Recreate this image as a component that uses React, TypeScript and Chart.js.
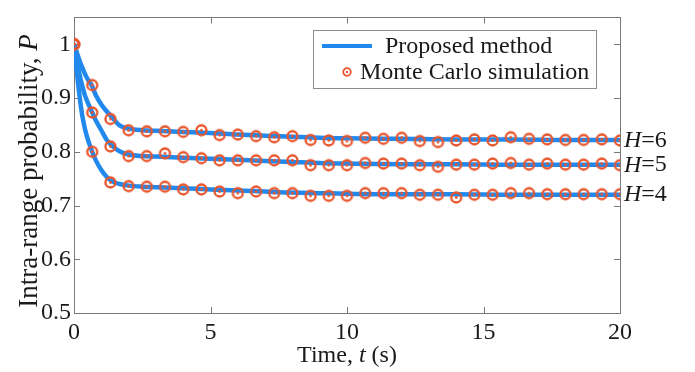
import React, { useEffect, useRef } from 'react';
import { Chart, registerables } from 'chart.js';
Chart.register(...registerables);

const FONT = '"Liberation Serif", "Times New Roman", serif';
const TEXT = '#1a1a1a';
const BLUE = '#2189ee';
const ORANGE = '#e8542a';
const FRAME = '#7a7a7a';

// Proposed method (smooth curves)
const lineT = [0, 0.1, 0.2, 0.3, 0.4, 0.5, 0.667, 0.8, 1, 1.2, 1.4, 1.667, 2, 2.5, 3, 4, 5, 6, 7, 8, 9, 10, 12, 14, 16, 18, 20];
const lineH6 = [1.0, 0.985, 0.97, 0.957, 0.945, 0.935, 0.922, 0.905, 0.888, 0.875, 0.864, 0.849, 0.843, 0.840, 0.839, 0.837, 0.835, 0.832, 0.830, 0.828, 0.826, 0.825, 0.824, 0.823, 0.823, 0.822, 0.822];
const lineH5 = [1.0, 0.972, 0.945, 0.923, 0.905, 0.892, 0.873, 0.858, 0.840, 0.822, 0.811, 0.801, 0.795, 0.792, 0.791, 0.789, 0.787, 0.785, 0.783, 0.781, 0.779, 0.778, 0.777, 0.777, 0.776, 0.776, 0.776];
const lineH4 = [1.0, 0.95, 0.905, 0.868, 0.843, 0.824, 0.800, 0.784, 0.766, 0.753, 0.745, 0.740, 0.737, 0.735, 0.734, 0.732, 0.730, 0.728, 0.726, 0.724, 0.723, 0.722, 0.721, 0.721, 0.720, 0.720, 0.720];

// Monte Carlo simulation (markers)
const mcT = [0, 0.667, 1.333, 2, 2.667, 3.333, 4, 4.667, 5.333, 6, 6.667, 7.333, 8, 8.667, 9.333, 10, 10.667, 11.333, 12, 12.667, 13.333, 14, 14.667, 15.333, 16, 16.667, 17.333, 18, 18.667, 19.333, 20];
const mcH6 = [1.0, 0.924, 0.861, 0.840, 0.838, 0.838, 0.837, 0.840, 0.831, 0.832, 0.829, 0.827, 0.829, 0.822, 0.821, 0.820, 0.826, 0.824, 0.826, 0.820, 0.818, 0.821, 0.823, 0.821, 0.827, 0.824, 0.823, 0.822, 0.822, 0.823, 0.821];
const mcH5 = [1.0, 0.873, 0.810, 0.792, 0.792, 0.797, 0.790, 0.788, 0.784, 0.784, 0.784, 0.784, 0.784, 0.775, 0.775, 0.775, 0.779, 0.778, 0.778, 0.775, 0.772, 0.776, 0.776, 0.778, 0.779, 0.776, 0.778, 0.776, 0.776, 0.778, 0.775];
const mcH4 = [1.0, 0.800, 0.743, 0.736, 0.735, 0.735, 0.730, 0.730, 0.726, 0.723, 0.726, 0.723, 0.723, 0.718, 0.718, 0.718, 0.723, 0.723, 0.723, 0.720, 0.720, 0.715, 0.720, 0.720, 0.723, 0.723, 0.721, 0.721, 0.721, 0.721, 0.721];

const hLabels = ['6', '5', '4'];
const xTicks = [0, 5, 10, 15, 20];
const yTicks = [0.5, 0.6, 0.7, 0.8, 0.9, 1.0];
const legendLabels = ['Proposed method', 'Monte Carlo simulation'];

function makeMarker(r: number, lw: number, dot: number) {
  const size = Math.ceil((r + lw) * 2 + 2);
  const c = document.createElement('canvas');
  c.width = size;
  c.height = size;
  const ctx = c.getContext('2d')!;
  ctx.strokeStyle = ORANGE;
  ctx.lineWidth = lw;
  ctx.beginPath();
  ctx.arc(size / 2, size / 2, r, 0, Math.PI * 2);
  ctx.stroke();
  ctx.fillStyle = ORANGE;
  ctx.beginPath();
  ctx.arc(size / 2, size / 2, dot, 0, Math.PI * 2);
  ctx.fill();
  return c;
}

function drawMixed(ctx: CanvasRenderingContext2D, parts: [string, boolean][], x: number, y: number, size: number, align: 'left' | 'center') {
  const widths = parts.map(([t, it]) => {
    ctx.font = `${it ? 'italic ' : ''}${size}px ${FONT}`;
    return ctx.measureText(t).width;
  });
  const total = widths.reduce((a, b) => a + b, 0);
  let cx = align === 'center' ? x - total / 2 : x;
  parts.forEach(([t, it], i) => {
    ctx.font = `${it ? 'italic ' : ''}${size}px ${FONT}`;
    ctx.fillText(t, cx, y);
    cx += widths[i];
  });
}

export default function App() {
  const ref = useRef<HTMLCanvasElement>(null);
  useEffect(() => {
    document.body.style.margin = '0';
    const canvas = ref.current!;
    const marker = makeMarker(5, 2.3, 1.4);
    const legendMarker = makeMarker(3.8, 1.8, 1.2);

    const overlay = {
      id: 'overlay',
      beforeDatasetsDraw(chart: any) {
        const { ctx, chartArea: a, scales } = chart;
        ctx.save();
        ctx.strokeStyle = FRAME;
        ctx.lineWidth = 1;
        ctx.strokeRect(Math.round(a.left) + 0.5, Math.round(a.top) + 0.5, Math.round(a.right - a.left), Math.round(a.bottom - a.top));
        const tl = 6;
        ctx.beginPath();
        xTicks.forEach((v) => {
          const px = Math.round(scales.x.getPixelForValue(v)) + 0.5;
          ctx.moveTo(px, a.bottom);
          ctx.lineTo(px, a.bottom - tl);
          ctx.moveTo(px, a.top);
          ctx.lineTo(px, a.top + tl);
        });
        yTicks.forEach((v) => {
          const py = Math.round(scales.y.getPixelForValue(v)) + 0.5;
          ctx.moveTo(a.left, py);
          ctx.lineTo(a.left + tl, py);
          ctx.moveTo(a.right, py);
          ctx.lineTo(a.right - tl, py);
        });
        ctx.stroke();
        ctx.restore();
      },
      afterDraw(chart: any) {
        const { ctx, chartArea: a, scales } = chart;
        ctx.save();
        ctx.fillStyle = TEXT;
        ctx.textBaseline = 'middle';
        // H labels
        const ends = [mcH6[mcH6.length - 1], mcH5[mcH5.length - 1], mcH4[mcH4.length - 1]];
        hLabels.forEach((h, i) => {
          const py = scales.y.getPixelForValue(ends[i]);
          drawMixed(ctx, [['H', true], ['=' + h, false]], a.right + 4, py, 24, 'left');
        });
        // x title
        drawMixed(ctx, [['Time, ', false], ['t', true], [' (s)', false]], 347, 356, 24, 'center');
        // y title
        ctx.save();
        ctx.translate(30, 171);
        ctx.rotate(-Math.PI / 2);
        drawMixed(ctx, [['Intra-range probability, ', false], ['P', true]], 0, 0, 27, 'center');
        ctx.restore();
        // legend
        const lx = 313, ly = 30, lw = 283, lh = 58;
        ctx.fillStyle = '#ffffff';
        ctx.fillRect(lx, ly, lw, lh);
        ctx.strokeStyle = '#8c8c8c';
        ctx.lineWidth = 1;
        ctx.strokeRect(lx + 0.5, ly + 0.5, lw, lh);
        ctx.strokeStyle = BLUE;
        ctx.lineWidth = 4;
        ctx.beginPath();
        ctx.moveTo(322, 46);
        ctx.lineTo(372, 46);
        ctx.stroke();
        ctx.drawImage(legendMarker, 347 - legendMarker.width / 2, 72 - legendMarker.height / 2);
        ctx.fillStyle = TEXT;
        ctx.font = `24px ${FONT}`;
        ctx.textAlign = 'left';
        ctx.fillText(legendLabels[0], 385, 47);
        ctx.fillText(legendLabels[1], 360, 73);
        ctx.restore();
      },
    };

    const lineDs = (data: number[]) => ({
      type: 'line' as const,
      data: lineT.map((t, i) => ({ x: t, y: data[i] })),
      borderColor: BLUE,
      borderWidth: 4.5,
      pointRadius: 0,
      cubicInterpolationMode: 'monotone' as const,
      fill: false,
      order: 2,
    });
    const mcDs = (data: number[]) => ({
      type: 'line' as const,
      data: mcT.map((t, i) => ({ x: t, y: data[i] })),
      showLine: false,
      pointStyle: marker,
      pointRadius: 5,
      borderColor: ORANGE,
      backgroundColor: 'transparent',
      order: 1,
    });

    const chart = new Chart(canvas, {
      type: 'line',
      data: {
        datasets: [
          { label: 'Proposed method H=6', ...lineDs(lineH6) },
          { label: 'Proposed method H=5', ...lineDs(lineH5) },
          { label: 'Proposed method H=4', ...lineDs(lineH4) },
          { label: 'Monte Carlo H=6', ...mcDs(mcH6) },
          { label: 'Monte Carlo H=5', ...mcDs(mcH5) },
          { label: 'Monte Carlo H=4', ...mcDs(mcH4) },
        ] as any,
      },
      options: {
        responsive: false,
        animation: false,
        devicePixelRatio: 1,
        layout: { padding: { left: 0, right: 75, top: 5, bottom: 0 } },
        plugins: { legend: { display: false }, tooltip: { enabled: false } },
        scales: {
          x: {
            type: 'linear',
            min: 0,
            max: 20,
            ticks: { stepSize: 5, font: { family: FONT, size: 24 }, color: TEXT, padding: 5, maxRotation: 0, autoSkip: false },
            grid: { display: false, drawTicks: false },
            border: { display: false },
            afterFit: (s: any) => { s.height = 59; },
          },
          y: {
            type: 'linear',
            min: 0.5,
            max: 1.05,
            ticks: {
              stepSize: 0.1,
              includeBounds: false,
              font: { family: FONT, size: 24 },
              color: TEXT,
              padding: 3,
              callback: (v: any) => String(Math.round(Number(v) * 10) / 10),
            },
            grid: { display: false, drawTicks: false },
            border: { display: false },
            afterFit: (s: any) => { s.width = 74; },
          },
        },
      } as any,
      plugins: [overlay],
    });
    return () => chart.destroy();
  }, []);
  return <canvas ref={ref} width={695} height={372} style={{ display: 'block', width: 695, height: 372 }} />;
}
